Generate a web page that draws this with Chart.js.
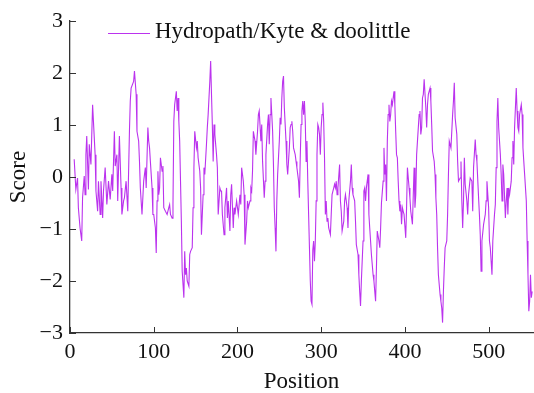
<!DOCTYPE html>
<html>
<head>
<meta charset="utf-8">
<script src="https://cdn.jsdelivr.net/npm/chart.js@4/dist/chart.umd.min.js"></script>
<style>
  html, body { margin: 0; padding: 0; background: #fff; }
</style>
</head>
<body>
<canvas id="plot" width="534" height="393"></canvas>
<script>
// residue positions and Kyte & Doolittle scores
const positions = [
  5, 7, 9, 10, 12, 14, 15, 17, 18, 19, 20, 22, 23, 25, 27, 28, 30, 31, 33, 34,
  36, 37, 39, 40, 42, 44, 46, 48, 50, 51, 53, 54, 56, 57, 59, 61, 62, 64, 65, 67,
  69, 71, 72, 73, 76, 77, 79, 80, 82, 83, 84,
  86, 88, 90, 91, 93, 94, 95, 96, 98, 99, 100, 102, 103, 104, 105, 106, 107, 108, 110, 111,
  112, 114, 116, 118, 119, 120, 122, 123, 124, 125, 127, 128, 129, 130, 131, 132, 133, 134, 136, 137,
  138, 139, 140, 142, 143, 144, 146, 147, 148, 149, 151, 152, 153, 155, 156, 157, 159, 160, 161, 163,
  164, 165, 167, 168, 169, 170, 171, 172, 173, 175, 176, 177, 179, 180, 181, 182,
  184, 185, 187, 188, 189, 191, 192, 193, 195, 196, 197, 199, 200, 201, 203, 204, 205, 207, 208, 209,
  211, 212, 213, 215, 216, 217, 218, 219, 221, 222, 224, 225, 226, 228, 229, 230, 232, 233, 234, 236,
  237, 238, 239, 240, 242, 243, 244, 245, 246, 247, 248, 250, 251, 252, 253, 254, 255, 256, 258, 259,
  260, 262, 263, 264, 265, 266, 267, 269, 270, 271, 273, 274, 275, 276, 277, 278, 279,
  280, 281, 282, 283, 284, 285, 286, 287, 288, 289, 290, 291, 292, 293, 294, 295, 296, 297, 298, 299,
  300, 301, 302, 303, 304, 305, 306, 307, 308, 309, 311, 312, 313, 315, 316, 317, 318, 319, 320, 322,
  323, 324, 325, 327, 328, 329, 331, 332, 333, 335, 336, 337, 338, 340, 341, 342, 344, 345, 346, 347,
  348, 350, 351, 352, 353, 354, 356, 357, 358, 359, 360, 362, 363, 364, 365, 366, 367, 369, 370, 371,
  372, 374, 375, 376,
  377, 378, 379, 380, 381, 382, 383, 384, 385, 387, 388, 389, 390, 391, 392, 393, 394, 395, 396, 397,
  398, 399, 401, 402, 403, 405, 406, 407, 409, 410, 411, 412, 413, 414, 415, 417, 418, 419, 420, 421,
  422, 423, 425, 426, 427, 428, 430, 431, 432, 433, 435, 436, 437, 438, 439, 440, 442, 443, 444, 445,
  446, 447, 448, 450, 451, 452, 453, 455, 456, 457, 458, 459, 460, 462, 463, 464, 466, 467, 468, 469, 470,
  471, 472, 474, 475, 476, 478, 480, 481, 482, 484, 485, 486, 488, 489, 490, 491, 492, 494, 496, 497,
  498, 500, 501, 502, 503, 504, 505, 507, 508, 509, 510, 511, 512, 514, 515, 516, 517, 518, 520, 521,
  522, 523, 524, 525, 527, 528, 529, 530, 531, 533, 534, 535, 536, 537, 539, 540, 541, 542, 543, 545,
  546, 547, 548, 549, 550, 551, 552
];
const scores = [
  0.34, -0.24, -0.02, -0.59, -0.98, -1.23, -0.40, 0.02, -0.34, 0.43, 0.79, -0.24, 0.63, 0.24, 1.39, 1.07, 0.43, -0.27, -0.66, -0.08,
  -0.72, -0.08, -0.79, -0.27, 0.18, -0.53, -0.08, -0.43, 0.05, -0.27, 0.88, 0.21, 0.43, -0.46, 0.79, -0.21, -0.72, -0.46, -0.40, -0.08,
  -0.66, 0.88, 1.46, 1.71, 1.84, 2.04, 1.59, 0.88, 0.69, 0.30, -0.21,
  -0.72, -0.08, 0.18, -0.21, 0.95, 0.69, 0.56, 0.30, -0.21, -0.72, -0.72, -0.98, -1.46, -0.46, 0.11, -0.34, -0.21, 0.37, 0.11, 0.21,
  -0.59, -0.66, -0.72, -0.59, -0.53, -0.72, -0.79, -0.53, 1.07, 1.39, 1.65, 1.27, 1.52, 1.07, 0.69, -0.08, -0.85, -1.81, -2.32, -1.43,
  -1.88, -1.75, -2.00, -2.10, -1.49, -1.43, -1.36, -0.59, 0.18, 0.88, 0.56, 0.69, 0.37, 0.11, -0.21, -1.11, -0.34, 0.18, 0.05, 0.63,
  0.95, 1.20, 1.84, 2.23, 1.59, 1.01, 0.30, 1.01, 0.82, 0.43, 0.18, -0.72, -0.21, -0.27, -0.27, -0.72,
  -1.11, -0.59, -0.21, -0.79, -0.46, -1.04, -0.34, -0.14, -0.98, -0.59, -0.72, -0.46, -0.59, -0.72, -0.34, -0.53, 0.18, -0.08, -0.34, -1.30,
  -0.85, -0.46, -0.59, -0.46, -0.21, -0.27, 0.11, 0.88, 0.69, 0.43, 0.88, 1.20, 1.27, 0.69, 1.01, 0.30, -0.40, -0.08, 0.43, 1.01,
  1.20, 0.63, 1.20, 1.52, 0.88, 0.24, -0.59, -0.98, -1.43, -0.46, 0.05, 0.69, 1.14, 1.01, 1.52, 1.84, 1.94, 1.33, 0.69, 0.24,
  0.05, 0.56, 0.95, 1.01, 1.07, 0.88, 0.56, 0.43, 0.30, 0.18, -0.08, -0.40, 0.37, 1.01, 1.27, 1.46, 1.20,
  1.46, 1.07, 0.30, 0.69, -0.08, -0.72, -1.36, -2.00, -2.39, -2.45, -1.40, -1.23, -1.62, -1.23, -0.46, 0.43, 1.01, 0.95, 0.82, 0.43,
  0.95, 1.20, 1.43, 1.07, 0.37, -0.72, -0.46, -0.85, -0.79, -0.98, -1.11, -0.72, -0.34, -0.21, -0.14, -0.21, -0.08, -0.34, -0.21, 0.24,
  -0.46, -0.66, -1.04, -0.85, -0.46, -0.34, -0.59, -0.98, -0.46, -0.08, 0.24, -0.21, -0.34, -0.46, -0.85, -1.30, -1.49, -1.88, -2.20, -2.48,
  -2.00, -1.23, -0.27, -0.21, -0.46, -0.21, 0.05, -0.72, -0.98, -1.23, -1.49, -1.88, -2.00, -2.20, -2.39, -1.75, -1.04, -1.23, -1.36, -0.98,
  -0.50, -0.08, 0.56, 0.05,
  0.24, -0.46, 0.69, 1.20, 1.39, 1.07, 1.20, 1.46, 1.39, 1.65, 1.39, 0.88, 0.43, 0.37, -0.08, -0.46, -0.66, -0.53, -0.91, -0.59,
  -0.66, -0.72, -1.17, -0.59, 0.18, -0.21, -0.40, -0.66, -0.91, -0.34, 0.18, -0.59, -0.34, 0.43, 0.69, 1.20, 1.27, 0.82, 0.95, 1.52,
  1.59, 1.88, 1.33, 0.95, 1.39, 1.59, 1.71, 1.46, 1.01, 0.50, 0.30, 0.05, -0.40, -0.72, -1.36, -1.88, -2.26, -2.39, -2.52, -2.80,
  -2.20, -1.75, -1.36, -1.23, -0.72, 0.05, 0.69, 0.56, 0.88, 1.20, 1.46, 1.81, 1.14, 0.82, 0.30, -0.08, -0.02, 0.30, -0.46, -0.98, -0.46,
  0.37, -0.14, -0.46, -0.72, -0.34, -0.02, -0.08, -0.66, 0.18, 0.72, 0.43, 0.30, -0.40, -0.72, -1.11, -1.81, -1.23, -0.91, -0.72, -0.46,
  -0.08, -0.59, -1.23, -1.36, -1.62, -1.88, -1.23, -0.72, -0.53, 0.18, 1.07, 1.52, 0.95, 0.43, 0.05, -0.46, 0.24, 0.05, -0.79, -0.46,
  -0.21, -0.72, -0.21, -0.34, -0.08, 0.37, 0.69, 0.24, 0.95, 1.71, 1.27, 0.95, 0.88, 1.20, 1.39, 1.20, 0.56, 0.30, 0.05, -0.46,
  -1.23, -1.88, -2.58, -2.39, -1.88, -2.32, -2.20
];
const xTicks = [0, 100, 200, 300, 400, 500];
const yTicks = [-3, -2, -1, 0, 1, 2, 3];
const seriesLabel = 'Hydropath/Kyte & doolittle';

const serif = "'Liberation Serif', 'Times New Roman', serif";
const lineColor = '#bb33ee';
const axisColor = '#333';

// MATLAB-style ticks pointing into the plot, plus the legend entry
const insideTicks = {
  id: 'insideTicks',
  afterDraw(chart) {
    const { ctx, chartArea, scales: { x, y } } = chart;
    ctx.save();
    ctx.strokeStyle = axisColor;
    ctx.lineWidth = 1;
    xTicks.forEach(v => {
      const px = Math.round(x.getPixelForValue(v)) + 0.5;
      ctx.beginPath();
      ctx.moveTo(px, chartArea.bottom);
      ctx.lineTo(px, chartArea.bottom - 6);
      ctx.stroke();
    });
    yTicks.forEach(v => {
      const py = Math.round(y.getPixelForValue(v)) + 0.5;
      ctx.beginPath();
      ctx.moveTo(chartArea.left, py);
      ctx.lineTo(chartArea.left + 6, py);
      ctx.stroke();
    });

    const ds = chart.data.datasets[0];
    ctx.strokeStyle = ds.borderColor;
    ctx.lineWidth = 1.2;
    ctx.beginPath();
    ctx.moveTo(108, 33.5);
    ctx.lineTo(150, 33.5);
    ctx.stroke();
    ctx.fillStyle = '#111';
    ctx.font = '23px ' + serif;
    ctx.textBaseline = 'alphabetic';
    ctx.textAlign = 'left';
    ctx.fillText(ds.label, 155, 38);
    ctx.restore();
  }
};

new Chart(document.getElementById('plot'), {
  type: 'line',
  data: {
    datasets: [{
      label: seriesLabel,
      data: positions.map((p, i) => ({ x: p, y: scores[i] })),
      borderColor: lineColor,
      borderWidth: 1.1,
      pointRadius: 0,
      tension: 0,
      fill: false
    }]
  },
  options: {
    responsive: false,
    animation: false,
    layout: { padding: { top: 21, right: 1, left: 0, bottom: 0 } },
    plugins: {
      legend: { display: false },
      tooltip: { enabled: false }
    },
    scales: {
      x: {
        type: 'linear',
        min: 0,
        max: 553,
        afterFit: s => { s.height = 60; },
        afterBuildTicks: s => { s.ticks = xTicks.map(v => ({ value: v })); },
        grid: { display: false, drawTicks: false },
        border: { display: true, color: axisColor, width: 1.3 },
        ticks: {
          padding: 8,
          color: '#111',
          font: { family: serif, size: 22, lineHeight: 1 }
        },
        title: {
          display: true,
          text: 'Position',
          color: '#111',
          padding: { top: 0, bottom: 0 },
          font: { family: serif, size: 23, lineHeight: 1 }
        }
      },
      y: {
        min: -3,
        max: 3,
        afterFit: s => { s.width = 70; },
        afterBuildTicks: s => { s.ticks = yTicks.map(v => ({ value: v })); },
        grid: { display: false, drawTicks: false },
        border: { display: true, color: axisColor, width: 1.3 },
        ticks: {
          padding: 7,
          color: '#111',
          font: { family: serif, size: 22, lineHeight: 1 },
          callback: v => String(v).replace('-', '\u2212')
        },
        title: {
          display: true,
          text: 'Score',
          color: '#111',
          padding: { top: 7, bottom: 0 },
          font: { family: serif, size: 23, lineHeight: 1 }
        }
      }
    }
  },
  plugins: [insideTicks]
});
</script>
</body>
</html>
